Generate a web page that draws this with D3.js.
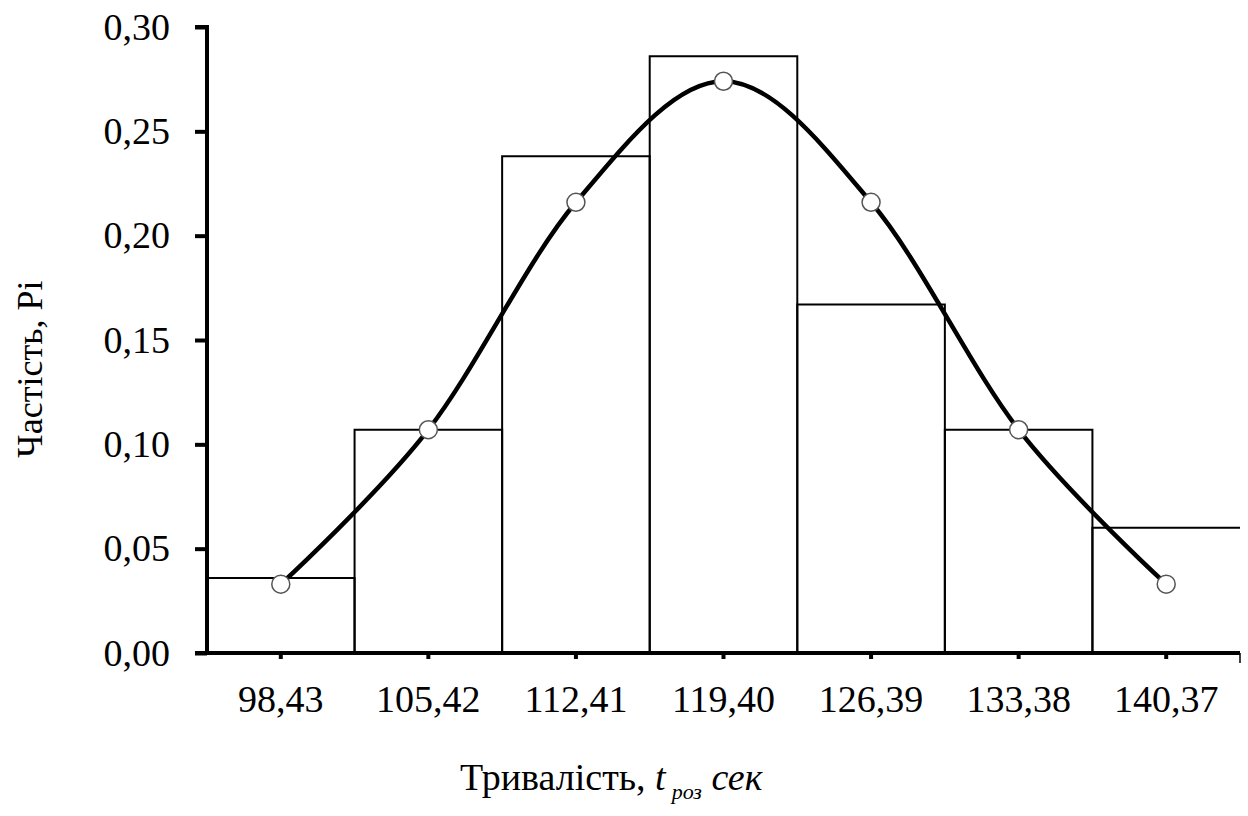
<!DOCTYPE html>
<html>
<head>
<meta charset="utf-8">
<script src="https://cdn.jsdelivr.net/npm/d3@7"></script>
<style>
  body { margin: 0; background: #fff; }
  svg { display: block; font-family: "Liberation Serif", "Times New Roman", serif; }
</style>
</head>
<body>
<svg></svg>
<script>
// data
const categories = ['98,43', '105,42', '112,41', '119,40', '126,39', '133,38', '140,37'];
const observed = [0.036, 0.107, 0.238, 0.286, 0.167, 0.107, 0.060];   // bars
const theoretical = [0.033, 0.107, 0.216, 0.274, 0.216, 0.107, 0.033]; // curve
const yTicks = [0, 0.05, 0.10, 0.15, 0.20, 0.25, 0.30];

const width = 1248;
const height = 816;
const margin = {top: 27, right: 8, bottom: 163, left: 207};

const svg = d3.select('svg')
    .attr('width', width)
    .attr('height', height);

const x = d3.scaleBand()
            .domain(categories)
            .range([margin.left, width - margin.right])
            .padding(0);

const y = d3.scaleLinear()
            .domain([0, 0.30])
            .range([height - margin.bottom, margin.top]);

const fmt = d => d3.format('.2f')(d).replace('.', ',');

// bars (last one open on the right like the original)
const bars = svg.append('g').attr('fill', 'none').attr('stroke', '#000').attr('stroke-width', 2);
bars.selectAll('path')
  .data(observed)
  .enter()
  .append('path')
    .attr('d', (d, i) => {
      const x0 = x(categories[i]), x1 = x0 + x.bandwidth();
      const y0 = y(0), y1 = y(d);
      if (i === observed.length - 1) return `M${x0},${y0}V${y1}H${x1}`;
      return `M${x0},${y0}V${y1}H${x1}V${y0}`;
    });

// curve
const line = d3.line()
               .x((d, i) => x(categories[i]) + x.bandwidth() / 2)
               .y(d => y(d))
               .curve(d3.curveCardinal.tension(0));

svg.append('path')
    .datum(theoretical)
    .attr('fill', 'none')
    .attr('stroke', '#000')
    .attr('stroke-width', 4.5)
    .attr('d', line);

svg.append('g')
  .selectAll('circle')
  .data(theoretical)
  .enter()
  .append('circle')
    .attr('cx', (d, i) => x(categories[i]) + x.bandwidth() / 2)
    .attr('cy', d => y(d))
    .attr('r', 9)
    .attr('fill', '#fff')
    .attr('stroke', '#555')
    .attr('stroke-width', 1.5);

// y axis
const yAxis = svg.append('g')
    .attr('transform', `translate(${margin.left},0)`)
    .call(d3.axisLeft(y).tickValues(yTicks).tickFormat(fmt).tickSize(12).tickPadding(25));
yAxis.select('.domain').attr('stroke-width', 4).attr('d', `M-12,${y(0.30)}H0V${y(0)}`);
yAxis.selectAll('.tick line').attr('stroke-width', 4);
yAxis.selectAll('.tick text')
    .attr('font-size', 38)
    .attr('fill', '#000')
    .attr('font-family', '"Liberation Serif", serif');

// x axis
const xAxis = svg.append('g')
    .attr('transform', `translate(0,${y(0)})`)
    .call(d3.axisBottom(x).tickSize(6));
xAxis.select('.domain')
    .attr('stroke-width', 4)
    .attr('d', `M${margin.left - 12},0H${width - margin.right}`);
xAxis.selectAll('.tick line').attr('stroke-width', 4);
xAxis.selectAll('.tick text')
    .attr('y', 59)
    .attr('dy', 0)
    .attr('font-size', 38)
    .attr('fill', '#000')
    .attr('font-family', '"Liberation Serif", serif');
svg.append('line')
    .attr('x1', width - margin.right).attr('x2', width - margin.right)
    .attr('y1', y(0)).attr('y2', y(0) + 10)
    .attr('stroke', '#000').attr('stroke-width', 1.5);

// axis titles
const xt = svg.append('text')
    .attr('x', 460)
    .attr('y', 790)
    .attr('font-size', 38);
xt.append('tspan').text('Тривалість, ');
xt.append('tspan').attr('font-style', 'italic').text('t');
xt.append('tspan').attr('font-style', 'italic').attr('font-size', 22).attr('dy', 9).attr('dx', 6).text('роз');
xt.append('tspan').attr('font-style', 'italic').attr('dy', -9).text(' сек');

svg.append('text')
    .attr('transform', 'translate(42,369) rotate(-90)')
    .attr('font-size', 36)
    .attr('text-anchor', 'middle')
    .text('Частість, Рі');
</script>
</body>
</html>
